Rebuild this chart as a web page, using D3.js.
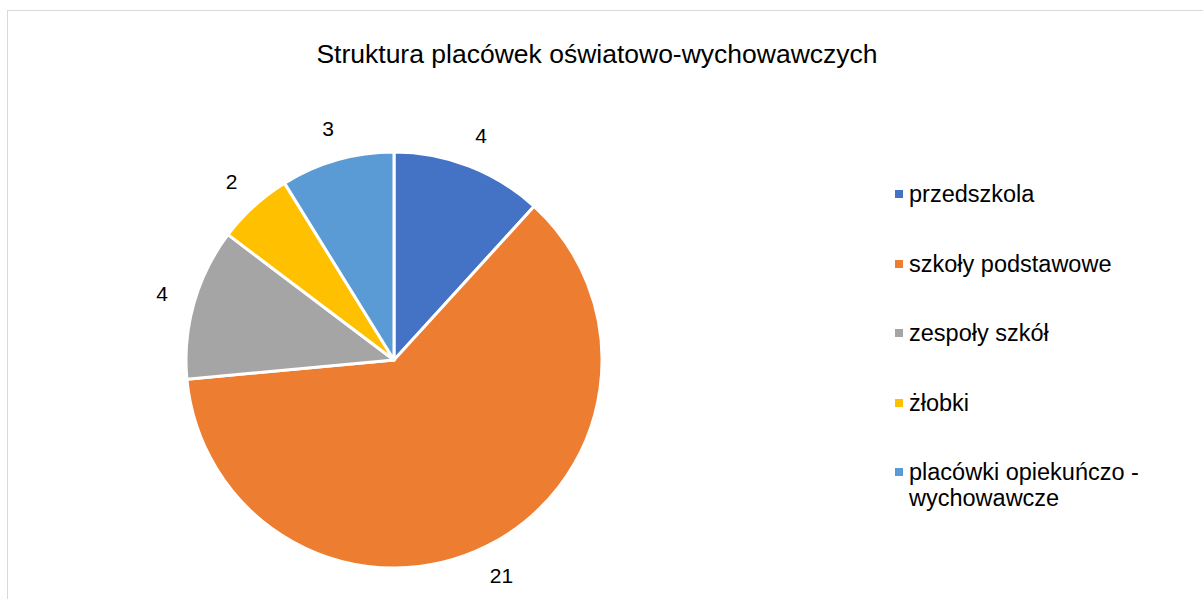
<!DOCTYPE html>
<html>
<head>
<meta charset="utf-8">
<script src="https://cdn.jsdelivr.net/npm/d3@7"></script>
<style>
  body { margin: 0; background: #fff; }
  svg { display: block; font-family: "Liberation Sans", Arial, sans-serif; }
</style>
</head>
<body>
<script>
// chart data
var categories = ["przedszkola", "szkoły podstawowe", "zespoły szkół", "żłobki", "placówki opiekuńczo - wychowawcze"];
var values = [4, 21, 4, 2, 3];
var colors = ["#4472c4", "#ed7d31", "#a5a5a5", "#ffc000", "#5b9bd5"];
var title = "Struktura placówek oświatowo-wychowawczych";

var svgWidth = 1203;
var svgHeight = 599;

var svg = d3.select("body")
  .append("svg")
  .attr("width", svgWidth)
  .attr("height", svgHeight);

// chart frame
svg.append("rect")
  .attr("x", 7.5)
  .attr("y", 10.5)
  .attr("width", 1210)
  .attr("height", 600)
  .attr("fill", "#fff")
  .attr("stroke", "#d9d9d9")
  .attr("stroke-width", 1);

svg.append("text")
  .attr("x", 597)
  .attr("y", 63)
  .attr("text-anchor", "middle")
  .attr("font-size", "26.5px")
  .attr("fill", "#000")
  .text(title);

var cx = 394, cy = 360, radius = 208;

var pie = d3.pie().sort(null).value(d => d);
var arcs = pie(values);
var arc = d3.arc().innerRadius(0).outerRadius(radius);
var labelArc = d3.arc().innerRadius(241).outerRadius(241);

var pieGroup = svg.append("g")
  .attr("transform", `translate(${cx}, ${cy})`);

pieGroup.selectAll("path")
  .data(arcs)
  .enter()
  .append("path")
  .attr("d", arc)
  .attr("fill", (d, i) => colors[i])
  .attr("stroke", "#fff")
  .attr("stroke-width", 3)
  .attr("stroke-linejoin", "round");

pieGroup.selectAll(".lbl")
  .data(arcs)
  .enter()
  .append("text")
  .attr("class", "lbl")
  .attr("transform", d => `translate(${labelArc.centroid(d)})`)
  .attr("text-anchor", "middle")
  .attr("dy", "0.35em")
  .attr("font-size", "21px")
  .attr("fill", "#000")
  .text(d => d.data);

// legend
var legendX = 895;
var legendY = [194, 264, 333, 403, 472];
var legend = svg.selectAll(".legend")
  .data(categories)
  .enter()
  .append("g")
  .attr("class", "legend")
  .attr("transform", (d, i) => `translate(${legendX}, ${legendY[i]})`);

legend.append("rect")
  .attr("x", 0)
  .attr("y", -4)
  .attr("width", 8)
  .attr("height", 8)
  .attr("fill", (d, i) => colors[i]);

legend.append("text")
  .attr("x", 14)
  .attr("y", 0)
  .attr("font-size", "23.5px")
  .attr("fill", "#000")
  .each(function(d) {
    var t = d3.select(this);
    var lines = d.indexOf(" - ") >= 0 ? [d.split(" - ")[0] + " -", d.split(" - ")[1]] : [d];
    lines.forEach((line, j) => {
      t.append("tspan")
        .attr("x", 14)
        .attr("dy", j === 0 ? "0.35em" : "26px")
        .text(line);
    });
  });
</script>
</body>
</html>
